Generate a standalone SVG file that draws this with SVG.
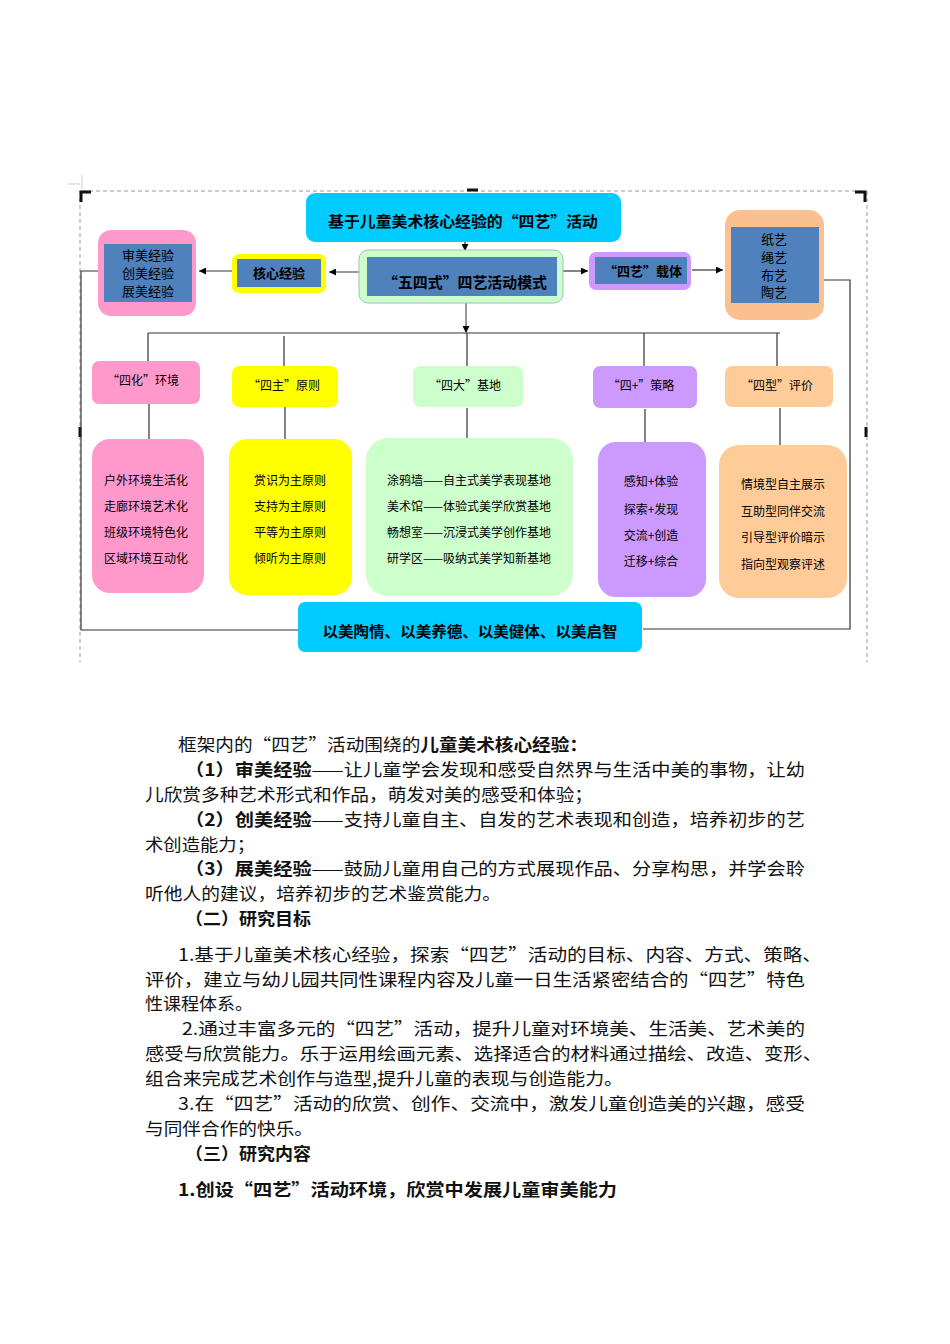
<svg xmlns="http://www.w3.org/2000/svg" width="950" height="1344" viewBox="0 0 950 1344">
<defs>
<marker id="ah" viewBox="0 0 8 8" refX="8" refY="4" markerWidth="7" markerHeight="7" orient="auto" markerUnits="userSpaceOnUse"><path d="M0,0 L8,4 L0,8 z" fill="#000"/></marker>
<style>
.t{font-family:"Noto Sans CJK SC","Noto Sans",sans-serif;fill:#000;}
.c{text-anchor:middle;}
.b{font-weight:bold;}
.s12{font-size:12px;}
.s13{font-size:13px;}
.s15{font-size:15px;}
.p{font-family:"Noto Sans CJK SC","Noto Sans",sans-serif;font-size:17px;fill:#111;}
.inner{fill:#4F81BD;}
.ln{stroke:#333;stroke-width:1.2;fill:none;}
.lg{stroke:#777;stroke-width:1.5;fill:none;}
.dash{stroke:#999;stroke-width:1;stroke-dasharray:4,3;fill:none;}
.corner{stroke:#111;stroke-width:3;fill:none;}
</style>
</defs>
<rect width="950" height="1344" fill="#fff"/>
<!-- frame -->
<g id="frame">
<path class="dash" d="M82,191 H866 M80,191 V662 M867,191 V662"/>
<path class="corner" d="M81,202 V192 H91"/>
<path class="corner" d="M855,192 H865 V202"/>
<path class="corner" d="M467,190 H478"/>
<path class="corner" d="M80,427 V437"/>
<path class="corner" d="M866,427 V437"/>
<path stroke="#ccc" stroke-width="1" d="M68,184 H80 M82,175 V189"/>
</g>
<!-- connectors -->
<g id="connectors">
<path class="ln" d="M465,242 V251" marker-end="url(#ah)"/>
<path class="lg" d="M359,272 H329" marker-end="url(#ah)"/>
<path class="lg" d="M232,271 H199" marker-end="url(#ah)"/>
<path class="ln" d="M563,271 H588" marker-end="url(#ah)"/>
<path class="ln" d="M692,270 H723" marker-end="url(#ah)"/>
<path class="lg" d="M466,303 V333" marker-end="url(#ah)"/>
<path class="lg" d="M148,333 H780"/>
<path class="ln" d="M148,333 V362 M284,336 V366 M467,333 V367 M644,333 V367 M777,333 V366"/>
<path class="ln" d="M149,404 V440 M285,407 V440 M467,408 V439 M645,409 V443 M780,408 V445"/>
<path class="ln" d="M98,271 H81 V630 H298"/>
<path class="ln" d="M824,280 H850 V629 H643"/>
</g>
<!-- top row -->
<g id="title">
<rect x="306" y="193" width="315" height="49" rx="9" fill="#00CCFF"/>
<text class="t c b s15" x="463" y="227" textLength="270" lengthAdjust="spacingAndGlyphs">基于儿童美术核心经验的“四艺”活动</text>
</g>
<g id="mode">
<rect x="359" y="250" width="204" height="53" rx="9" fill="#CCFFCC" stroke="#9ABFC0" stroke-width="1"/>
<rect class="inner" x="367" y="257" width="190" height="39"/>
<text class="t c b s15" x="465" y="288" textLength="164" lengthAdjust="spacingAndGlyphs">“五四式”四艺活动模式</text>
</g>
<g id="core">
<rect x="232" y="254" width="94" height="39" rx="7" fill="#FFFF00"/>
<rect class="inner" x="237" y="259" width="84" height="28"/>
<text class="t c b s13" x="279" y="278">核心经验</text>
</g>
<g id="exp">
<rect x="98" y="230" width="98" height="86" rx="13" fill="#FF99CC"/>
<rect class="inner" x="104" y="244" width="88" height="58"/>
<text class="t c s13" x="148" y="260">审美经验</text>
<text class="t c s13" x="148" y="278">创美经验</text>
<text class="t c s13" x="148" y="296">展美经验</text>
</g>
<g id="carrier">
<rect x="589" y="252" width="102" height="38" rx="7" fill="#CC99FF"/>
<rect class="inner" x="595" y="257" width="92" height="27"/>
<text class="t c b s13" x="643" y="276">“四艺”载体</text>
</g>
<g id="arts">
<rect x="725" y="210" width="99" height="110" rx="15" fill="#FAC090"/>
<rect class="inner" x="731" y="227" width="88" height="76"/>
<text class="t c s13" x="774" y="244">纸艺</text>
<text class="t c s13" x="774" y="262">绳艺</text>
<text class="t c s13" x="774" y="280">布艺</text>
<text class="t c s13" x="774" y="297">陶艺</text>
</g>
<!-- middle row -->
<g id="m1"><rect x="92" y="361" width="108" height="43" rx="7" fill="#FF99CC"/><text class="t c s12" x="143" y="385">“四化”环境</text></g>
<g id="m2"><rect x="232" y="366" width="106" height="41" rx="7" fill="#FFFF00"/><text class="t c s12" x="284" y="390">“四主”原则</text></g>
<g id="m3"><rect x="413" y="366" width="110" height="41" rx="7" fill="#CCFFCC"/><text class="t c s12" x="465" y="390">“四大”基地</text></g>
<g id="m4"><rect x="593" y="366" width="104" height="42" rx="7" fill="#CC99FF"/><text class="t c s12" x="641" y="390">“四+”策略</text></g>
<g id="m5"><rect x="725" y="366" width="108" height="41" rx="7" fill="#FFCC99"/><text class="t c s12" x="777" y="390">“四型”评价</text></g>
<!-- bottom row -->
<g id="b1"><rect x="92" y="439" width="112" height="154" rx="18" fill="#FF99CC"/>
<text class="t c s12" x="146" y="485">户外环境生活化</text>
<text class="t c s12" x="146" y="511">走廊环境艺术化</text>
<text class="t c s12" x="146" y="537">班级环境特色化</text>
<text class="t c s12" x="146" y="563">区域环境互动化</text></g>
<g id="b2"><rect x="229" y="439" width="123" height="156" rx="18" fill="#FFFF00"/>
<text class="t c s12" x="290" y="485">赏识为主原则</text>
<text class="t c s12" x="290" y="511">支持为主原则</text>
<text class="t c s12" x="290" y="537">平等为主原则</text>
<text class="t c s12" x="290" y="563">倾听为主原则</text></g>
<g id="b3"><rect x="366" y="438" width="207" height="158" rx="22" fill="#CCFFCC"/>
<text class="t c s12" x="469" y="485">涂鸦墙——自主式美学表现基地</text>
<text class="t c s12" x="469" y="511">美术馆——体验式美学欣赏基地</text>
<text class="t c s12" x="469" y="537">畅想室——沉浸式美学创作基地</text>
<text class="t c s12" x="469" y="563">研学区——吸纳式美学知新基地</text></g>
<g id="b4"><rect x="598" y="442" width="108" height="155" rx="18" fill="#CC99FF"/>
<text class="t c s12" x="651" y="486">感知+体验</text>
<text class="t c s12" x="651" y="514">探索+发现</text>
<text class="t c s12" x="651" y="540">交流+创造</text>
<text class="t c s12" x="651" y="566">迁移+综合</text></g>
<g id="b5"><rect x="719" y="445" width="128" height="153" rx="20" fill="#FFCC99"/>
<text class="t c s12" x="783" y="489">情境型自主展示</text>
<text class="t c s12" x="783" y="516">互助型同伴交流</text>
<text class="t c s12" x="783" y="542">引导型评价暗示</text>
<text class="t c s12" x="783" y="569">指向型观察评述</text></g>
<g id="goal"><rect x="298" y="602" width="344" height="50" rx="7" fill="#00CCFF"/>
<text class="t c b s15" x="470" y="637" textLength="295" lengthAdjust="spacingAndGlyphs">以美陶情、以美养德、以美健体、以美启智</text></g>
<!-- body text -->
<g id="body">
<text class="p" x="178" y="751" textLength="410" lengthAdjust="spacingAndGlyphs">框架内的“四艺”活动围绕的<tspan font-weight="bold">儿童美术核心经验：</tspan></text>
<text class="p" x="185" y="776" textLength="620" lengthAdjust="spacingAndGlyphs"><tspan font-weight="bold">（1）审美经验</tspan>——让儿童学会发现和感受自然界与生活中美的事物，让幼</text>
<text class="p" x="145" y="801" textLength="448" lengthAdjust="spacingAndGlyphs">儿欣赏多种艺术形式和作品，萌发对美的感受和体验；</text>
<text class="p" x="185" y="826" textLength="620" lengthAdjust="spacingAndGlyphs"><tspan font-weight="bold">（2）创美经验</tspan>——支持儿童自主、自发的艺术表现和创造，培养初步的艺</text>
<text class="p" x="145" y="851" textLength="110" lengthAdjust="spacingAndGlyphs">术创造能力；</text>
<text class="p" x="185" y="875" textLength="620" lengthAdjust="spacingAndGlyphs"><tspan font-weight="bold">（3）展美经验</tspan>——鼓励儿童用自己的方式展现作品、分享构思，并学会聆</text>
<text class="p" x="145" y="900" textLength="356" lengthAdjust="spacingAndGlyphs">听他人的建议，培养初步的艺术鉴赏能力。</text>
<text class="p" x="185" y="925" font-weight="bold" textLength="126" lengthAdjust="spacingAndGlyphs">（二）研究目标</text>
<text class="p" x="178" y="961" textLength="644" lengthAdjust="spacingAndGlyphs">1.基于儿童美术核心经验，探索“四艺”活动的目标、内容、方式、策略、</text>
<text class="p" x="145" y="986" textLength="660" lengthAdjust="spacingAndGlyphs">评价，建立与幼儿园共同性课程内容及儿童一日生活紧密结合的“四艺”特色</text>
<text class="p" x="145" y="1010" textLength="108" lengthAdjust="spacingAndGlyphs">性课程体系。</text>
<text class="p" x="182" y="1035" textLength="623" lengthAdjust="spacingAndGlyphs">2.通过丰富多元的“四艺”活动，提升儿童对环境美、生活美、艺术美的</text>
<text class="p" x="145" y="1060" textLength="677" lengthAdjust="spacingAndGlyphs">感受与欣赏能力。乐于运用绘画元素、选择适合的材料通过描绘、改造、变形、</text>
<text class="p" x="145" y="1085" textLength="478" lengthAdjust="spacingAndGlyphs">组合来完成艺术创作与造型,提升儿童的表现与创造能力。</text>
<text class="p" x="178" y="1110" textLength="627" lengthAdjust="spacingAndGlyphs">3.在“四艺”活动的欣赏、创作、交流中，激发儿童创造美的兴趣，感受</text>
<text class="p" x="145" y="1135" textLength="168" lengthAdjust="spacingAndGlyphs">与同伴合作的快乐。</text>
<text class="p" x="185" y="1160" font-weight="bold" textLength="126" lengthAdjust="spacingAndGlyphs">（三）研究内容</text>
<text class="p" x="178" y="1196" font-weight="bold" textLength="439" lengthAdjust="spacingAndGlyphs">1.创设“四艺”活动环境，欣赏中发展儿童审美能力</text>
</g>
</svg>
